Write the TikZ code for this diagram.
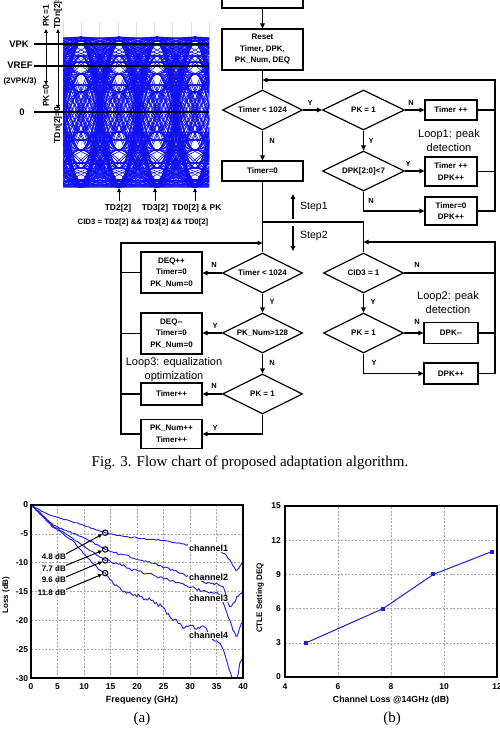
\documentclass[tikz,border=0pt]{standalone}
\usepackage{fontspec}
\setmainfont{Liberation Serif}
\setsansfont{Liberation Sans}
\usetikzlibrary{shapes.geometric,arrows.meta,calc}
\definecolor{eyeblue}{RGB}{15,15,245}
\definecolor{chblue}{RGB}{30,30,230}
\newcommand\nseg[5]{%
  \pgfmathtruncatemacro\nsegn{max(2,round(abs((#4)-(#2))*3))}%
  \draw[chan] (#2,#3) \foreach \k in {1,...,\nsegn} {%
     -- ({(#2)+((#4)-(#2))*\k/\nsegn},{(#3)+((#5)-(#3))*\k/\nsegn+(\k<\nsegn)*(#1)*rand})};%
}
\newcommand\noisyline[2]{%
  \gdef\prvx{}%
  \foreach \px/\py in {#2}{%
    \ifx\prvx\empty\else\nseg{#1}{\prvx}{\prvy}{\px}{\py}\fi
    \xdef\prvx{\px}\xdef\prvy{\py}%
  }%
}
\begin{document}
\begin{tikzpicture}[x=1pt,y=-1pt,
  fc/.style={font=\sffamily\bfseries\fontsize{8}{11.5}\selectfont, align=center},
  box/.style={fc, draw, line width=1.2pt, inner sep=0pt},
  dia/.style={fc, draw, diamond, aspect=2, line width=1.2pt, inner sep=0pt, minimum width=80pt, minimum height=40pt},
  ln/.style={line width=1.2pt},
  arr/.style={line width=1.2pt, -{Triangle[length=5pt,width=4.5pt]}},
  yn/.style={font=\sffamily\bfseries\fontsize{7.5}{8}\selectfont, inner sep=0pt},
  lp/.style={font=\sffamily\fontsize{11}{14.5}\selectfont, align=center, inner sep=0pt},
  el/.style={font=\sffamily\bfseries\fontsize{8.5}{9}\selectfont, inner sep=0pt},
  earr/.style={line width=1pt, -{Triangle[length=4pt,width=3.5pt]}},
  tk/.style={font=\sffamily\bfseries\fontsize{8.5}{9}\selectfont, inner sep=0pt},
  grd/.style={gray!70, dashed, line width=0.6pt, dash pattern=on 2pt off 1.5pt},
  chan/.style={chblue, line width=0.9pt, line cap=round, line join=round},
  eyec/.style={eyeblue, line width=0.6pt},
  captxt/.style={font=\rmfamily\fontsize{15}{18}\selectfont, inner sep=0pt}
]
\useasboundingbox (0,0) rectangle (500,730);
\pgfmathsetseed{7}

% ================= eye diagram =================
\foreach \k in {0,...,8} \draw[gray!25, line width=0.4pt] ({63+18.25*\k},22) -- ({63+18.25*\k},187);
\begin{scope}
\clip (63,37) rectangle (209,187);
\foreach \xs in {43,81,119,157,195}
 \foreach \a in {37,40,44,56,74,92,132,150,168,181,184,187}
  \foreach \b in {37,40,44,56,74,92,132,150,168,181,184,187}
   \draw[eyec] (\xs,\a) .. controls ({\xs+15},\a) and ({\xs+23},\b) .. ({\xs+38},\b);
\foreach \xs in {5,43,81,119,157,195}
 \foreach \a in {38,45,62,85,140,163,180,186}
  \foreach \b in {38,45,62,85,140,163,180,186}
   \draw[eyec] (\xs,\a) .. controls ({\xs+32},\a) and ({\xs+44},\b) .. ({\xs+76},\b);
\end{scope}
\coordinate (vpkL) at (34,44);  \coordinate (vpkR) at (209,44);
\coordinate (vrefL) at (34,66); \coordinate (vrefR) at (209,66);
\coordinate (zeroL) at (34,112); \coordinate (zeroR) at (209,112);
\draw[line width=1.6pt] (vpkL) -- (vpkR);
\draw[line width=1.6pt] (vrefL) -- (vrefR);
\draw[line width=1.6pt] (zeroL) -- (zeroR);
\node[el, anchor=east, font=\sffamily\bfseries\fontsize{9.5}{10}\selectfont] (vpk) at (29,44) {VPK};
\node[el, font=\sffamily\bfseries\fontsize{9.5}{10}\selectfont] (vref) at (20,65) {VREF};
\node[el, font=\sffamily\bfseries\fontsize{8}{9}\selectfont] (vref2) at (20,81) {(2VPK/3)};
\node[el, font=\sffamily\bfseries\fontsize{9.5}{10}\selectfont] (zero) at (22,112) {0};
\coordinate (pkm) at (46,66); \coordinate (pkt) at (46,29); \coordinate (pkb) at (46,85);
\draw[earr] (pkm) -- (pkt);
\draw[earr] (pkm) -- (pkb);
\node[el, rotate=90] (pk1) at (46,16) {PK=1};
\node[el, rotate=90] (pk0) at (46,96) {PK=0};
\coordinate (tdt) at (58,29); \coordinate (tdb) at (58,109);
\draw[line width=1pt, {Triangle[length=4pt,width=3.5pt]}-{Triangle[length=4pt,width=3.5pt]}] (tdt) -- (tdb);
\node[el, rotate=90] (td1) at (58,10) {TDn[2]=1};
\node[el, rotate=90] (td0) at (58,125) {TDn[2]=0};
\coordinate (a1b) at (119,201); \coordinate (a1t) at (119,188);
\coordinate (a2b) at (155,201); \coordinate (a2t) at (155,188);
\coordinate (a3b) at (195,201); \coordinate (a3t) at (195,188);
\draw[earr] (a1b) -- (a1t);
\draw[earr] (a2b) -- (a2t);
\draw[earr] (a3b) -- (a3t);
\node[el] (td2) at (118,208) {TD2[2]};
\node[el] (td3) at (155,208) {TD3[2]};
\node[el] (td0pk) at (197,208) {TD0[2] \& PK};
\node[el, font=\sffamily\bfseries\fontsize{7.8}{9}\selectfont] (cid) at (143,222) {CID3 = TD2[2] \&\& TD3[2] \&\& TD0[2]};

% ================= flow chart =================
\node[box, minimum width=81pt, minimum height=20pt] (start) at (262.5,-2) {Start};
\node[box, minimum width=81pt, minimum height=41pt] (reset) at (262.5,49.5) {Reset\\Timer, DPK,\\PK\_Num, DEQ};
\node[dia] (d1) at (262.5,110) {Timer < 1024};
\node[dia, minimum width=82pt] (d2) at (363.5,110) {PK = 1};
\node[box, minimum width=52pt, minimum height=20pt] (b1) at (451,110) {Timer ++};
\node[dia, minimum width=82pt] (d3) at (363.5,171) {DPK[2:0]<7};
\node[box, minimum width=52pt, minimum height=29pt] (b2) at (451,171.5) {Timer ++\\DPK++};
\node[box, minimum width=52pt, minimum height=28pt] (b3) at (451,211) {Timer=0\\DPK++};
\node[box, minimum width=81pt, minimum height=20pt] (t0) at (262.5,171) {Timer=0};
\node[lp] (loop1) at (449,140.5) {Loop1: peak\\detection};

\coordinate (r1) at (495,80);
\coordinate (j1) at (262.5,80);
\draw[arr] (start) -- (reset);
\draw[ln] (reset) -- (d1);
\draw[arr] (d1) -- (d2);
\draw[arr] (d2) -- (b1);
\draw[arr] (d2) -- (d3);
\draw[arr] (d3.east) -- (d3.east -| b2.west);
\draw[arr] (d3.south) |- (b3.west);
\draw[ln] (b1.east) -- (b1.east -| r1);
\draw[ln] (b2.east) -- (b2.east -| r1);
\draw[arr] (b3.east) -| (r1) -- (j1);
\draw[arr] (d1) -- (t0);
\node[yn] (y1) at (310,103) {Y};
\node[yn] (n1) at (411,103) {N};
\node[yn] (y2) at (371,141) {Y};
\node[yn] (y3) at (408,164) {Y};
\node[yn] (n2) at (371,201) {N};
\node[yn] (n3) at (272,141) {N};

% steps
\coordinate (s1) at (262.5,222);
\coordinate (s2) at (363.5,222);
\coordinate (st1a) at (293,219); \coordinate (st1b) at (293,194);
\coordinate (st2a) at (293,226); \coordinate (st2b) at (293,251);
\draw[arr] (st1a) -- (st1b);
\draw[arr] (st2a) -- (st2b);
\node[lp, anchor=west, font=\sffamily\fontsize{10.5}{12}\selectfont] (step1) at (300,207) {Step1};
\node[lp, anchor=west, font=\sffamily\fontsize{10.5}{12}\selectfont] (step2) at (300,236) {Step2};

% lower left column
\node[dia] (d4) at (262.5,273) {Timer < 1024};
\node[box, minimum width=61pt, minimum height=41pt] (b4) at (171.5,272.5) {DEQ++\\Timer=0\\PK\_Num=0};
\node[dia] (d5) at (262.5,333) {PK\_Num>128};
\node[box, minimum width=61pt, minimum height=41pt] (b5) at (171.5,333.5) {DEQ{-}{-}\\Timer=0\\PK\_Num=0};
\node[dia] (d6) at (262.5,394) {PK = 1};
\node[box, minimum width=61pt, minimum height=22pt] (b6) at (171.5,394) {Timer++};
\node[box, minimum width=61pt, minimum height=29pt] (b7) at (171.5,434) {PK\_Num++\\Timer++};
\node[lp] (loop3) at (174,369.5) {Loop3: equalization\\optimization};

% lower right column
\node[dia] (d7) at (363.5,273) {CID3 = 1};
\node[dia] (d8) at (363.5,333) {PK = 1};
\node[box, minimum width=54pt, minimum height=21pt] (b8) at (451,333) {DPK{-}{-}};
\node[box, minimum width=54pt, minimum height=21pt] (b9) at (451,373.5) {DPK++};
\node[lp] (loop2) at (448,302.5) {Loop2: peak\\detection};

\draw[ln] (t0.south) -- (s1) -- (s2);
\draw[ln] (s1) -- (d4.north);
\draw[ln] (s2) -- (d7.north);

\coordinate (l3) at (121,243);
\coordinate (j3) at (262.5,243);
\draw[arr] (d4.west) -- (d4.west -| b4.east);
\draw[arr] (d4) -- (d5);
\draw[arr] (d5.west) -- (d5.west -| b5.east);
\draw[arr] (d5) -- (d6);
\draw[arr] (d6.west) -- (d6.west -| b6.east);
\draw[arr] (d6.south) |- (b7.east);
\draw[ln] (b4.west) -- (b4.west -| l3);
\draw[ln] (b5.west) -- (b5.west -| l3);
\draw[ln] (b6.west) -- (b6.west -| l3);
\draw[arr] (b7.west) -| (l3) -- (j3);
\node[yn] (n4) at (214,265) {N};
\node[yn] (y4) at (272,302) {Y};
\node[yn] (y5) at (215,326) {Y};
\node[yn] (n5) at (272,363) {N};
\node[yn] (n6) at (214,386) {N};
\node[yn] (y6) at (215,428) {Y};

\coordinate (r3) at (495,242);
\coordinate (j2) at (363.5,242);
\draw[ln] (d7.east) -- (d7.east -| r3);
\draw[arr] (d7) -- (d8);
\draw[arr] (d8) -- (b8);
\draw[arr] (d8.south) |- (b9.west);
\draw[ln] (b8.east) -- (b8.east -| r3);
\draw[arr] (b9.east) -| (r3) -- (j2);
\node[yn] (n7) at (417,265) {N};
\node[yn] (y7) at (373,302) {Y};
\node[yn] (n8) at (417,322) {N};
\node[yn] (y8) at (374,363) {Y};

\node[captxt] (caption) at (250,463) {Fig. 3. Flow chart of proposed adaptation algorithm.};

% ================= plot (a) =================
\begin{scope}[shift={(31,505)}, x=5.3pt, y=5.77pt]
  \foreach \g in {5,10,...,35} \draw[grd] (\g,0) -- (\g,-30);
  \foreach \g in {-5,-10,...,-25} \draw[grd] (0,\g) -- (40,\g);
  \begin{scope}
    \clip (0,0) rectangle (40,-30);
    \noisyline{0.07}{0/0,2/-1.1,4/-1.9,5.5/-2.3,7.5/-2.8,9.9/-3.5,12/-4.2,14/-4.8}
    \noisyline{0.12}{14/-4.8,16.8/-5.3,20/-5.7,24.3/-6.1,27/-6.5,29.5/-6.9,35.5/-8.0,36.5/-8.4,37.5/-9.5,38.7/-11.4,39.2/-11.0,39.7/-10.2,40.5/-9.8}
    \noisyline{0.1}{0/0,2/-1.6,4.2/-3.5,6.1/-4.3,8/-4.9,10.5/-5.9,14/-7.7}
    \noisyline{0.22}{14/-7.7,16.8/-8.5,20/-9.4,24.3/-10.5,27/-11.4,29/-12.1,32.5/-13.3,34/-13.6,35.5/-13.9,36.3/-14.2,37/-16.5,37.5/-17.6,38.5/-16.8,38.8/-15.9,39.7/-15.3,40.5/-15}
    \noisyline{0.1}{0/0,2/-1.7,4.2/-3.7,6.1/-4.7,7.4/-5.5,10.5/-7.5,14/-9.6}
    \noisyline{0.25}{14/-9.6,16.8/-10.2,18.7/-11.1,21/-11.7,24.3/-12.5,27/-13.2,29/-13.9,31/-14.5,33/-15,35.3/-15.3,36.3/-17,37.2/-19.4,38.1/-21.7,38.7/-22.8,39.1/-22.2,39.7/-20.5,40.5/-19.8}
    \noisyline{0.12}{0/0,2/-1.8,4.2/-3.9,6.1/-5,8/-6.3,10.5/-9,13/-11.3,14/-11.8}
    \noisyline{0.4}{14/-11.8,15.5/-13.6,18/-15.3,20.6/-15.9,23/-16.5,24.7/-17.6,26.2/-19.4,28.1/-20.5,29/-21.3,29.6/-21.1,33.1/-21.4,34.4/-23.4,35.7/-24,36.6/-26,37.4/-28.6,37.8/-29.5,38.2/-31,38.8/-30.5,39.4/-27.4,40.5/-26.5}
  \end{scope}
  \draw[line width=1.3pt] (0,0) rectangle (40,-30);
  \foreach \v in {0,-5,-10,-15,-20,-25,-30} \node[tk, anchor=east] at (-0.5,\v) {\v};
  \foreach \v in {0,5,...,40} \node[tk] at (\v,-31.5) {\v};
  \node[circle, draw, line width=1pt, inner sep=0pt, minimum size=5.5pt] (c1) at (14,-4.8) {};
  \node[circle, draw, line width=1pt, inner sep=0pt, minimum size=5.5pt] (c2) at (14,-7.7) {};
  \node[circle, draw, line width=1pt, inner sep=0pt, minimum size=5.5pt] (c3) at (14,-9.6) {};
  \node[circle, draw, line width=1pt, inner sep=0pt, minimum size=5.5pt] (c4) at (14,-11.8) {};
  \node[tk, fill=white, inner sep=0.6pt, font=\sffamily\bfseries\fontsize{9}{10}\selectfont] (ch1) at (33.5,-7.45) {channel1};
  \node[tk, fill=white, inner sep=0.6pt, font=\sffamily\bfseries\fontsize{9}{10}\selectfont] (ch2) at (33.5,-12.5) {channel2};
  \node[tk, fill=white, inner sep=0.6pt, font=\sffamily\bfseries\fontsize{9}{10}\selectfont] (ch3) at (33.5,-16.2) {channel3};
  \node[tk, fill=white, inner sep=0.6pt, font=\sffamily\bfseries\fontsize{9}{10}\selectfont] (ch4) at (33.5,-22.6) {channel4};
\end{scope}
\node[tk, anchor=east, font=\sffamily\bfseries\fontsize{8}{9}\selectfont] (l1) at (66,557) {4.8 dB};
\node[tk, anchor=east, font=\sffamily\bfseries\fontsize{8}{9}\selectfont] (l2) at (66,568.5) {7.7 dB};
\node[tk, anchor=east, font=\sffamily\bfseries\fontsize{8}{9}\selectfont] (l3) at (66,580) {9.6 dB};
\node[tk, anchor=east, font=\sffamily\bfseries\fontsize{8}{9}\selectfont] (l4) at (66,592.5) {11.8 dB};
\draw[earr] (l1.north east) -- (c1);
\draw[earr] (l2.north east) -- (c2);
\draw[earr] (l3.north east) -- (c3);
\draw[earr] (l4.north east) -- (c4);
\node[tk, rotate=90, font=\sffamily\bfseries\fontsize{8}{9}\selectfont] (ya) at (6,595) {Loss (dB)};
\node[tk, font=\sffamily\bfseries\fontsize{9}{10}\selectfont] (xa) at (142,700) {Frequency (GHz)};
\node[captxt] (capa) at (142,719) {(a)};

% ================= plot (b) =================
\begin{scope}[shift={(285,677)}, x=26.5pt, y=11.4pt]
  \foreach \g in {2,4,6} \draw[grd] (\g,0) -- (\g,15);
  \foreach \g in {3,6,9,12} \draw[grd] (0,\g) -- (8,\g);
  \draw[line width=1.3pt] (0,0) rectangle (8,15);
  \foreach \v in {0,3,...,15} \node[tk, anchor=east] at (-0.15,\v) {\v};
  \foreach \v in {4,6,...,12} \node[tk] at ({\v-4},-0.86) {\v};
  \node[fill=chblue, inner sep=0pt, minimum size=4pt] (p1) at (0.8,3) {};
  \node[fill=chblue, inner sep=0pt, minimum size=4pt] (p2) at (3.7,6) {};
  \node[fill=chblue, inner sep=0pt, minimum size=4pt] (p3) at (5.6,9) {};
  \node[fill=chblue, inner sep=0pt, minimum size=4pt] (p4) at (7.8,11) {};
  \draw[chan, line width=1pt] (p1.center) -- (p2.center) -- (p3.center) -- (p4.center);
\end{scope}
\node[tk, rotate=90, font=\sffamily\bfseries\fontsize{8}{9}\selectfont] (yb) at (260,598) {CTLE Setting DEQ};
\node[tk, font=\sffamily\bfseries\fontsize{8.8}{10}\selectfont] (xb) at (391,700) {Channel Loss @14GHz (dB)};
\node[captxt] (capb) at (392,719) {(b)};
\end{tikzpicture}
\end{document}
